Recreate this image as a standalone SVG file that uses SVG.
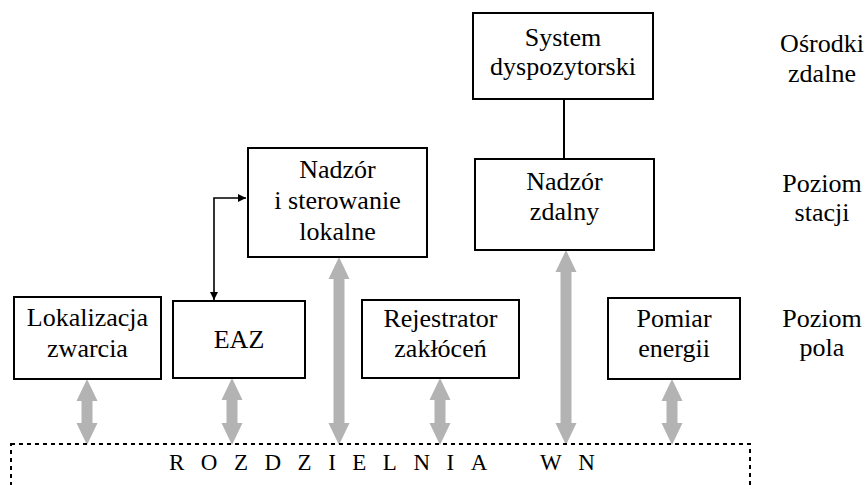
<svg xmlns="http://www.w3.org/2000/svg" width="866" height="485" viewBox="0 0 866 485">
<style>
.box{fill:#fff;stroke:#000;stroke-width:2}
.t{font-size:26px;fill:#000;text-anchor:middle}
.bus{fill:#b3b3b3;stroke:none}
.ln{fill:none;stroke:#000;stroke-width:1.6}
.dash{fill:none;stroke:#000;stroke-width:2;stroke-dasharray:4 4}
.title{font-size:23px;fill:#000;letter-spacing:16.5px}
</style>
<defs>
<marker id="ah" viewBox="0 0 10 10" refX="10" refY="5" markerWidth="5" markerHeight="5" orient="auto-start-reverse" markerUnits="strokeWidth">
<path d="M0,0 L10,5 L0,10 Z" fill="#000"/>
</marker>
</defs>
<rect width="866" height="485" fill="#fff"/>

<g id="connectors">
<path class="bus" d="M87,379 L97.5,401 L92.5,401 L92.5,423 L97.5,423 L87,445 L76.5,423 L81.5,423 L81.5,401 L76.5,401 Z"/>
<path class="bus" d="M232,378 L242.5,400 L237.5,400 L237.5,423 L242.5,423 L232,445 L221.5,423 L226.5,423 L226.5,400 L221.5,400 Z"/>
<path class="bus" d="M339,257 L349.5,279 L344.5,279 L344.5,423 L349.5,423 L339,445 L328.5,423 L333.5,423 L333.5,279 L328.5,279 Z"/>
<path class="bus" d="M440,378 L450.5,400 L445.5,400 L445.5,423 L450.5,423 L440,445 L429.5,423 L434.5,423 L434.5,400 L429.5,400 Z"/>
<path class="bus" d="M566,250 L576.5,272 L571.5,272 L571.5,423 L576.5,423 L566,445 L555.5,423 L560.5,423 L560.5,272 L555.5,272 Z"/>
<path class="bus" d="M672,379 L682.5,401 L677.5,401 L677.5,423 L682.5,423 L672,445 L661.5,423 L666.5,423 L666.5,401 L661.5,401 Z"/>
<path class="ln" d="M214,300 V198 H246" marker-start="url(#ah)" marker-end="url(#ah)"/>
<line x1="564" y1="99" x2="564" y2="159" stroke="#000" stroke-width="2"/>
</g>

<g font-family="'Liberation Serif', 'Times New Roman', 'DejaVu Serif', serif">
<g id="rozdzielnia">
<rect class="dash" x="11" y="444" width="739" height="70"/>
<text class="title" x="169" y="470">ROZDZIELNIA<tspan x="540">WN</tspan></text>
</g>

<g id="system">
<rect class="box" x="473" y="13" width="180" height="86"/>
<text class="t" x="563" y="46">System</text>
<text class="t" x="563" y="75">dyspozytorski</text>
</g>

<g id="nadzor-lokalne">
<rect class="box" x="248" y="148" width="179" height="109"/>
<text class="t" x="337.5" y="178">Nadzór</text>
<text class="t" x="337.5" y="209">i sterowanie</text>
<text class="t" x="337.5" y="240">lokalne</text>
</g>

<g id="nadzor-zdalny">
<rect class="box" x="475" y="159" width="179" height="91"/>
<text class="t" x="564.5" y="190">Nadzór</text>
<text class="t" x="564.5" y="220">zdalny</text>
</g>

<g id="lokalizacja">
<rect class="box" x="14" y="297" width="147" height="82"/>
<text class="t" x="87.5" y="326">Lokalizacja</text>
<text class="t" x="87.5" y="357">zwarcia</text>
</g>

<g id="eaz">
<rect class="box" x="173" y="301" width="132" height="77"/>
<text class="t" x="239" y="348">EAZ</text>
</g>

<g id="rejestrator">
<rect class="box" x="362" y="300" width="157" height="78"/>
<text class="t" x="440.5" y="327">Rejestrator</text>
<text class="t" x="440.5" y="357">zakłóceń</text>
</g>

<g id="pomiar">
<rect class="box" x="608" y="298" width="132" height="81"/>
<text class="t" x="674" y="327">Pomiar</text>
<text class="t" x="674" y="357">energii</text>
</g>

<g id="labels">
<text class="t" x="822" y="52">Ośrodki</text>
<text class="t" x="822" y="82">zdalne</text>
<text class="t" x="822" y="192">Poziom</text>
<text class="t" x="822" y="221">stacji</text>
<text class="t" x="822" y="327">Poziom</text>
<text class="t" x="822" y="356">pola</text>
</g>
</g>
</svg>
